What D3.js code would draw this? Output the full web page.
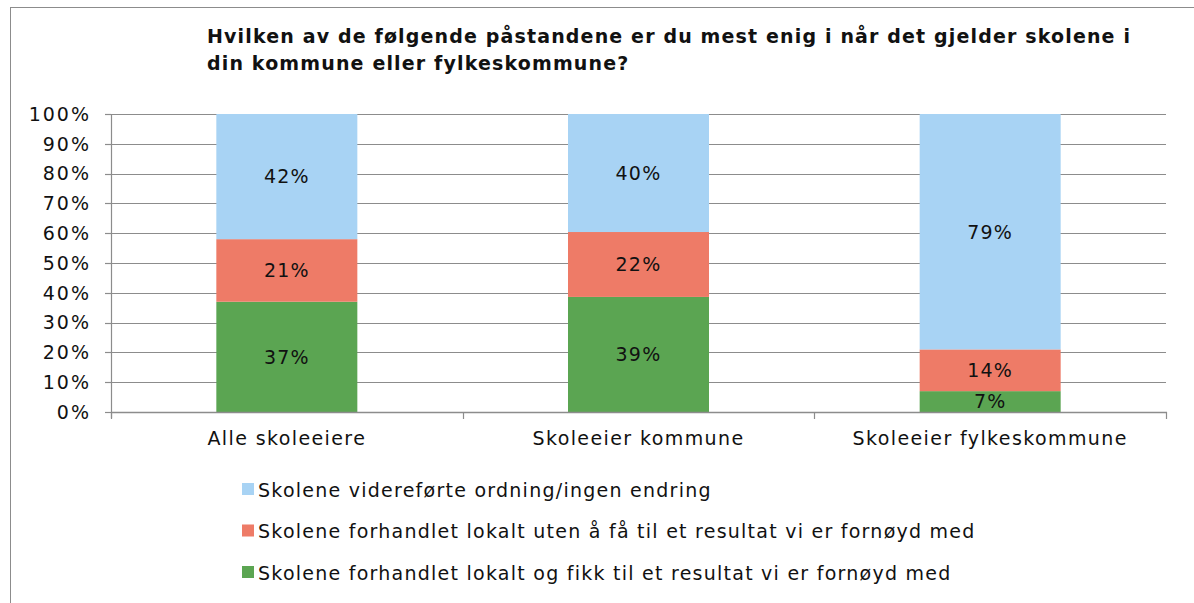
<!DOCTYPE html>
<html>
<head>
<meta charset="utf-8">
<script src="https://cdn.jsdelivr.net/npm/d3@7"></script>
<style>
  body { margin: 0; background: #fff; }
  text { font-family: "DejaVu Sans", Verdana, sans-serif; fill: #111; letter-spacing: 1.2px; }
</style>
</head>
<body>
<div id="chart"></div>
<script>
// Data
const categories = ["Alle skoleeiere", "Skoleeier kommune", "Skoleeier fylkeskommune"];
const seriesNames = [
    "Skolene forhandlet lokalt og fikk til et resultat vi er fornøyd med",
    "Skolene forhandlet lokalt uten å få til et resultat vi er fornøyd med",
    "Skolene videreførte ordning/ingen endring"
];
const fikkTil = [37, 39, 7];
const utenAa = [21, 22, 14];
const videreforte = [42, 40, 79];
const yTicks = [0, 10, 20, 30, 40, 50, 60, 70, 80, 90, 100];
const colors = ["#5ba552", "#ee7b67", "#a8d3f4"];

const width = 1194, height = 603;
const plotLeft = 111, plotRight = 1166, plotTop = 114, plotBottom = 412;

const svg = d3.select("#chart").append("svg")
    .attr("width", width)
    .attr("height", height);

// Outer frame
svg.append("rect")
    .attr("x", 10.5).attr("y", 7.5)
    .attr("width", 1200).attr("height", 700)
    .attr("fill", "none")
    .attr("stroke", "#8c8c8c");

// Title
const title = svg.append("text")
    .attr("x", 207).attr("y", 43)
    .attr("font-size", 19).attr("font-weight", "bold")
    .style("letter-spacing", "1.15px");
title.append("tspan").attr("x", 207)
    .text("Hvilken av de følgende påstandene er du mest enig i når det gjelder skolene i");
title.append("tspan").attr("x", 207).attr("dy", 27)
    .text("din kommune eller fylkeskommune?");

const x = d3.scaleBand().domain(categories).range([plotLeft, plotRight]).paddingInner(0).paddingOuter(0);
const y = d3.scaleLinear().domain([0, 100]).range([plotBottom, plotTop]);

// Gridlines
svg.append("g")
    .selectAll("line")
    .data(yTicks.slice(1))
    .join("line")
    .attr("x1", plotLeft).attr("x2", plotRight)
    .attr("y1", d => Math.round(y(d)) + 0.5)
    .attr("y2", d => Math.round(y(d)) + 0.5)
    .attr("stroke", "#8c8c8c").attr("stroke-width", 1.2);

// Stacked (100%) bars
const rows = categories.map((c, i) => {
    const total = fikkTil[i] + utenAa[i] + videreforte[i];
    return { cat: c, s0: fikkTil[i] / total * 100, s1: utenAa[i] / total * 100, s2: videreforte[i] / total * 100,
             raw: [fikkTil[i], utenAa[i], videreforte[i]] };
});
const stack = d3.stack().keys(["s0", "s1", "s2"])(rows);
const barW = 141;

stack.forEach((layer, li) => {
    const g = svg.append("g");
    g.selectAll("rect")
        .data(layer)
        .join("rect")
        .attr("x", d => x(d.data.cat) + x.bandwidth() / 2 - barW / 2)
        .attr("width", barW)
        .attr("y", d => y(d[1]))
        .attr("height", d => y(d[0]) - y(d[1]))
        .attr("fill", colors[li]);
    g.selectAll("text")
        .data(layer)
        .join("text")
        .attr("x", d => x(d.data.cat) + x.bandwidth() / 2)
        .attr("y", d => (y(d[0]) + y(d[1])) / 2)
        .attr("dy", "0.36em")
        .attr("text-anchor", "middle")
        .attr("font-size", 19)
        .text(d => d.data.raw[li] + "%");
});

// Y axis
const yAxis = svg.append("g");
yAxis.append("line")
    .attr("x1", plotLeft + 0.5).attr("x2", plotLeft + 0.5)
    .attr("y1", plotTop).attr("y2", plotBottom + 6)
    .attr("stroke", "#8c8c8c").attr("stroke-width", 1.2);
yAxis.selectAll(".tick")
    .data(yTicks)
    .join("line")
    .attr("x1", plotLeft - 6).attr("x2", plotLeft)
    .attr("y1", d => Math.round(y(d)) + 0.5)
    .attr("y2", d => Math.round(y(d)) + 0.5)
    .attr("stroke", "#8c8c8c").attr("stroke-width", 1.2);
yAxis.selectAll("text")
    .data(yTicks)
    .join("text")
    .attr("x", 91)
    .attr("y", d => y(d))
    .attr("dy", "0.36em")
    .attr("text-anchor", "end")
    .attr("font-size", 19)
    .style("letter-spacing", "2px")
    .text(d => d + "%");

// X axis
const xAxis = svg.append("g");
xAxis.append("line")
    .attr("x1", plotLeft).attr("x2", plotRight + 1)
    .attr("y1", Math.round(y(0)) + 0.5).attr("y2", Math.round(y(0)) + 0.5)
    .attr("stroke", "#8c8c8c").attr("stroke-width", 1.4);
xAxis.selectAll(".tick")
    .data(categories.map(c => x(c)).concat([plotRight]))
    .join("line")
    .attr("x1", d => Math.round(d) + 0.5).attr("x2", d => Math.round(d) + 0.5)
    .attr("y1", plotBottom).attr("y2", plotBottom + 7)
    .attr("stroke", "#8c8c8c").attr("stroke-width", 1.2);
xAxis.selectAll("text")
    .data(categories)
    .join("text")
    .attr("x", d => x(d) + x.bandwidth() / 2)
    .attr("y", 445)
    .attr("text-anchor", "middle")
    .attr("font-size", 19)
    .style("letter-spacing", "1.4px")
    .text(d => d);

// Legend (top to bottom: last series first)
const legendOrder = [2, 1, 0];
const legend = svg.append("g").attr("transform", "translate(242,490)");
legendOrder.forEach((si, i) => {
    const item = legend.append("g").attr("transform", `translate(0, ${i * 41.5})`);
    item.append("rect")
        .attr("x", 0).attr("y", -7)
        .attr("width", 12).attr("height", 12)
        .attr("fill", colors[si]);
    item.append("text")
        .attr("x", 16).attr("y", 0)
        .attr("dy", "0.36em")
        .attr("font-size", 19)
        .style("letter-spacing", "1.25px")
        .text(seriesNames[si]);
});
</script>
</body>
</html>
